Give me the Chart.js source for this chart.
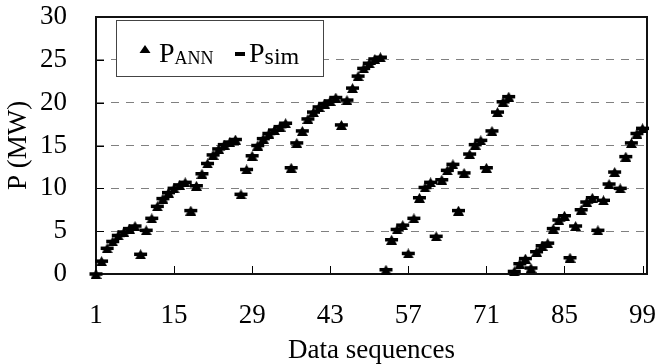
<!DOCTYPE html>
<html>
<head>
<meta charset="utf-8">
<script src="https://cdn.jsdelivr.net/npm/chart.js@4.4.1/dist/chart.umd.min.js"></script>
<style>
  html, body { margin: 0; padding: 0; background: #fff; }
</style>
</head>
<body>
<canvas id="chart" width="657" height="364"></canvas>
<script>
// data sequence numbers 1..99
const sequences = Array.from({ length: 99 }, (_, i) => i + 1);

const xTickValues = [1, 15, 29, 43, 57, 71, 85, 99];

// P (MW)
const pAnn = [
  0.0, 1.5, 3.0, 3.8, 4.5, 4.9, 5.3, 5.6, 2.3, 5.1,
  6.5, 7.9, 8.8, 9.5, 10.0, 10.4, 10.7, 7.4, 10.3, 11.7,
  12.9, 13.9, 14.6, 15.1, 15.4, 15.7, 9.3, 12.2, 13.8, 15.0,
  15.8, 16.4, 16.8, 17.2, 17.6, 12.4, 15.3, 16.7, 18.1, 18.9,
  19.5, 19.9, 20.2, 20.6, 17.4, 20.3, 21.7, 23.1, 24.0, 24.6,
  25.1, 25.3, 0.5, 4.0, 5.2, 5.7, 2.4, 6.5, 8.9, 10.1,
  10.7, 4.4, 11.0, 12.1, 12.8, 7.4, 11.8, 14.0, 15.1, 15.6,
  12.4, 16.7, 18.9, 20.1, 20.7, 0.3, 1.2, 1.8, 0.7, 2.6,
  3.3, 3.6, 5.3, 6.3, 6.8, 1.9, 5.6, 7.5, 8.4, 8.9,
  5.1, 8.6, 10.5, 11.9, 10.0, 13.7, 15.3, 16.4, 17.0
];

const pSim = [
  0.0, 1.5, 3.0, 3.8, 4.5, 4.9, 5.3, 5.6, 2.3, 5.1,
  6.5, 7.9, 8.8, 9.5, 10.0, 10.4, 10.7, 7.4, 10.3, 11.7,
  12.9, 13.9, 14.6, 15.1, 15.4, 15.7, 9.3, 12.2, 13.8, 15.0,
  15.8, 16.4, 16.8, 17.2, 17.6, 12.4, 15.3, 16.7, 18.1, 18.9,
  19.5, 19.9, 20.2, 20.6, 17.4, 20.3, 21.7, 23.1, 24.0, 24.6,
  25.1, 25.3, 0.5, 4.0, 5.2, 5.7, 2.4, 6.5, 8.9, 10.1,
  10.7, 4.4, 11.0, 12.1, 12.8, 7.4, 11.8, 14.0, 15.1, 15.6,
  12.4, 16.7, 18.9, 20.1, 20.7, 0.3, 1.2, 1.8, 0.7, 2.6,
  3.3, 3.6, 5.3, 6.3, 6.8, 1.9, 5.6, 7.5, 8.4, 8.9,
  5.1, 8.6, 10.5, 11.9, 10.0, 13.7, 15.3, 16.4, 17.0
];

const SERIF = "'Liberation Serif', 'Times New Roman', serif";

Chart.defaults.font.family = SERIF;
Chart.defaults.font.size = 27;
Chart.defaults.color = '#000';

const toPoints = (values) => values.map((v, i) => ({ x: sequences[i], y: v }));

// Excel style triangle: centred on its bounding box, not its centroid
const triangleMarker = document.createElement('canvas');
triangleMarker.width = 11;
triangleMarker.height = 10;
{
  const t = triangleMarker.getContext('2d');
  t.fillStyle = '#000';
  t.beginPath();
  t.moveTo(5.5, 0);
  t.lineTo(11, 10);
  t.lineTo(0, 10);
  t.closePath();
  t.fill();
}

// keep the plot box where the layout padding puts it
const noEdgePadding = (scale) => {
  scale.paddingTop = 0;
  scale.paddingBottom = 0;
  scale.paddingLeft = 0;
  scale.paddingRight = 0;
};

// plot frame plus the small inside tick marks
const frame = {
  id: 'frame',
  beforeDatasetsDraw(chart) {
    const { ctx, chartArea: a, scales: { x, y } } = chart;
    ctx.save();
    ctx.strokeStyle = '#000';
    ctx.lineWidth = 1;
    ctx.beginPath();
    xTickValues.forEach((v) => {
      const px = Math.round(x.getPixelForValue(v)) + 0.5;
      ctx.moveTo(px, a.bottom);
      ctx.lineTo(px, a.bottom - 8);
    });
    y.ticks.forEach((t) => {
      const py = Math.round(y.getPixelForValue(t.value)) + 0.5;
      ctx.moveTo(a.left, py);
      ctx.lineTo(a.left + 8, py);
    });
    ctx.stroke();
    ctx.lineWidth = 2;
    ctx.strokeStyle = '#111';
    ctx.strokeRect(a.left, a.top, a.right - a.left, a.bottom - a.top);
    ctx.restore();
  },
};

// boxed legend with subscripts
const subLegend = {
  id: 'subLegend',
  afterDraw(chart) {
    const { ctx } = chart;
    ctx.save();
    ctx.fillStyle = '#fff';
    ctx.fillRect(116, 20, 207, 56);
    ctx.strokeStyle = '#444';
    ctx.lineWidth = 1;
    ctx.strokeRect(116.5, 20.5, 207, 56);

    ctx.fillStyle = '#000';
    ctx.beginPath();
    ctx.moveTo(145, 45);
    ctx.lineTo(150.5, 53);
    ctx.lineTo(139.5, 53);
    ctx.closePath();
    ctx.fill();
    ctx.fillRect(235, 52, 10, 4);

    ctx.textBaseline = 'alphabetic';
    ctx.textAlign = 'left';
    ctx.font = '28px ' + SERIF;
    ctx.fillText('P', 159, 62);
    const w1 = ctx.measureText('P').width;
    ctx.fillText('P', 249, 62);
    const w2 = ctx.measureText('P').width;
    ctx.font = '18px ' + SERIF;
    ctx.fillText('ANN', 159 + w1, 64);
    ctx.font = '24px ' + SERIF;
    ctx.fillText('sim', 249 + w2, 64);
    ctx.restore();
  },
};

new Chart(document.getElementById('chart'), {
  type: 'scatter',
  data: {
    datasets: [
      {
        label: 'P_sim',
        data: toPoints(pSim),
        showLine: false,
        clip: false,
        pointStyle: 'line',
        pointRadius: 6.5,
        pointBorderWidth: 3.5,
        borderColor: '#000',
        backgroundColor: '#000',
      },
      {
        label: 'P_ANN',
        data: toPoints(pAnn),
        showLine: false,
        clip: false,
        pointStyle: triangleMarker,
        pointRadius: 6,
        borderColor: '#000',
        backgroundColor: '#000',
      },
    ],
  },
  options: {
    responsive: false,
    animation: false,
    layout: {
      padding: { top: 17, right: 10, left: 0, bottom: 0 },
    },
    plugins: {
      legend: { display: false },
      tooltip: { enabled: false },
    },
    scales: {
      x: {
        type: 'linear',
        min: 1,
        max: 99.8,
        afterBuildTicks: (scale) => {
          scale.ticks = xTickValues.map((v) => ({ value: v }));
        },
        afterFit: (scale) => {
          scale.height = 90;
          noEdgePadding(scale);
        },
        grid: { display: false, drawTicks: false },
        border: { display: false },
        ticks: {
          padding: 26,
          autoSkip: false,
          maxRotation: 0,
          color: '#000',
        },
        title: {
          display: true,
          text: 'Data sequences',
          color: '#000',
          font: { size: 27, lineHeight: 1 },
          padding: 0,
        },
      },
      y: {
        type: 'linear',
        min: 0,
        max: 30,
        afterFit: (scale) => {
          scale.width = 96;
          noEdgePadding(scale);
        },
        grid: {
          drawTicks: false,
          lineWidth: 1,
          color: (ctx) => (ctx.tick.value > 0 && ctx.tick.value < 30 ? '#808080' : 'rgba(0,0,0,0)'),
        },
        border: { display: false, dash: [8, 7] },
        ticks: {
          stepSize: 5,
          padding: 29,
          color: '#000',
        },
        title: {
          display: true,
          text: 'P (MW)',
          color: '#000',
          font: { size: 27, lineHeight: 1.2 },
          padding: { top: 3, bottom: 0 },
        },
      },
    },
  },
  plugins: [frame, subLegend],
});
</script>
</body>
</html>
